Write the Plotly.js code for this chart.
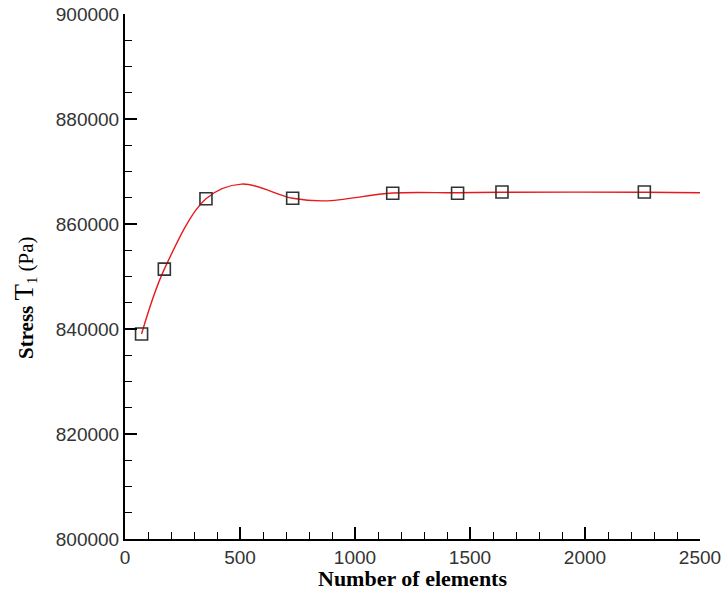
<!DOCTYPE html>
<html>
<head>
<meta charset="utf-8">
<script src="https://cdn.plot.ly/plotly-3.0.1.min.js"></script>
<style>html,body{margin:0;padding:0;background:#fff;}#chart{width:723px;height:590px;}</style>
</head>
<body>
<div id="chart"></div>
<script>
// Sample points (squares)
const elements = [72, 171, 352, 729, 1164, 1446, 1639, 2258];
const stress   = [839050, 851400, 864800, 864900, 865850, 865850, 866100, 866100];

// Fitted curve points
const curveX = [72, 171, 352, 507, 729, 870, 1164, 1446, 1639, 2258, 2500];
const curveY = [839050, 851400, 864800, 867600, 864900, 864400, 865900, 865950, 866050, 866050, 865950];

const xTicks = [0, 500, 1000, 1500, 2000, 2500];
const yTicks = [800000, 820000, 840000, 860000, 880000, 900000];

const tickFont = {family: 'Liberation Sans, Arial, sans-serif', size: 19, color: '#333'};
const titleFont = {family: 'Liberation Serif, Times New Roman, serif', color: '#000'};

const traces = [
  {x: curveX, y: curveY, mode: 'lines', type: 'scatter',
   line: {color: '#e8191b', width: 1.4, shape: 'spline', smoothing: 1.0}, hoverinfo: 'skip'},
  {x: elements, y: stress, mode: 'markers', type: 'scatter',
   marker: {symbol: 'square-open', size: 12, color: '#333', line: {width: 1.6, color: '#333'}}}
];

const layout = {
  width: 723, height: 590,
  margin: {l: 125, r: 23, t: 14, b: 51},
  paper_bgcolor: '#fff', plot_bgcolor: '#fff',
  showlegend: false,
  xaxis: {
    range: [0, 2500], tickvals: xTicks, ticktext: xTicks.map(String),
    ticks: 'inside', ticklen: 12, tickwidth: 2, tickcolor: '#000',
    showline: true, linecolor: '#000', linewidth: 2,
    showgrid: false, zeroline: false, tickfont: tickFont,
    minor: {dtick: 100, ticks: 'inside', ticklen: 7, tickwidth: 1, tickcolor: '#000', showgrid: false}
  },
  yaxis: {
    range: [800000, 900000], tickvals: yTicks, ticktext: yTicks.map(String),
    ticks: 'inside', ticklen: 12, tickwidth: 2, tickcolor: '#000',
    showline: true, linecolor: '#000', linewidth: 2,
    showgrid: false, zeroline: false, tickfont: tickFont,
    minor: {dtick: 5000, ticks: 'inside', ticklen: 7, tickwidth: 1, tickcolor: '#000', showgrid: false}
  },
  annotations: [{
    xref: 'paper', yref: 'paper', x: -(125 - 24) / 575, y: (539 - 298) / 525,
    xanchor: 'center', yanchor: 'middle', textangle: -90, showarrow: false,
    text: '<b>Stress</b> <span style="font-size:27px">T</span><sub>1</sub> (Pa)',
    font: Object.assign({size: 21}, titleFont)
  }, {
    xref: 'paper', yref: 'paper', x: 0.5, y: (539 - 578) / 525,
    xanchor: 'center', yanchor: 'middle', showarrow: false,
    text: '<b>Number of elements</b>',
    font: Object.assign({size: 22}, titleFont)
  }]
};

Plotly.newPlot('chart', traces, layout, {displayModeBar: false, staticPlot: true});
</script>
</body>
</html>
